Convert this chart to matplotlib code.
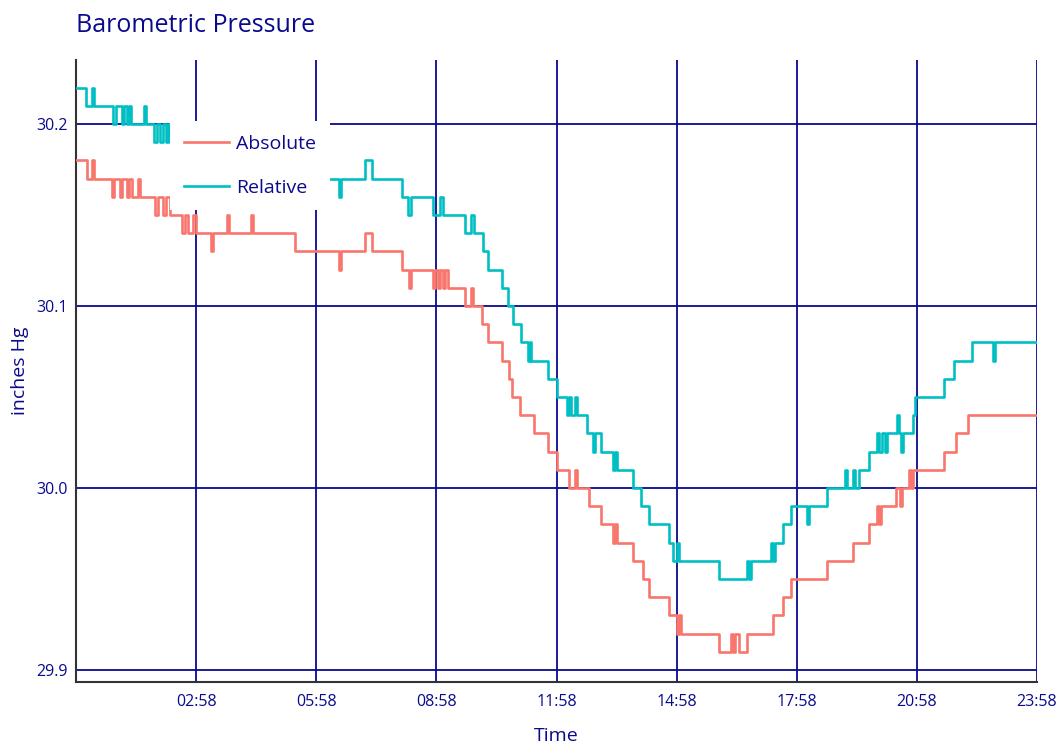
import matplotlib
matplotlib.use("Agg")
import matplotlib.pyplot as plt

# minutes since 23:58 (start of the window), value in inches Hg (step breakpoints)
rel_t = [0, 15, 24, 27, 55, 60, 69, 72, 76, 80, 82, 102, 105, 117, 121, 126, 130, 135, 138, 141,
         186, 276, 394, 397, 433, 444, 489, 498, 502, 535, 546, 550, 583, 592, 597, 610, 618, 639,
         648, 655, 667, 678, 680, 682, 708, 721, 735, 738, 741, 747, 750, 766, 774, 777, 786, 804,
         807, 810, 834, 847, 859, 888, 895, 900, 903, 963, 1006, 1008, 1011, 1041, 1044, 1047,
         1059, 1071, 1096, 1099, 1126, 1152, 1155, 1165, 1168, 1173, 1188, 1200, 1203, 1207, 1212,
         1215, 1230, 1233, 1236, 1239, 1254, 1257, 1300, 1315, 1342, 1374, 1377, 1440]
rel_v = [30.22, 30.21, 30.22, 30.21, 30.20, 30.21, 30.20, 30.21, 30.20, 30.21, 30.20, 30.21, 30.20,
         30.19, 30.20, 30.19, 30.20, 30.19, 30.20, 30.19,
         30.18, 30.17, 30.16, 30.17, 30.18, 30.17, 30.16, 30.15, 30.16, 30.15, 30.16, 30.15, 30.14,
         30.15, 30.14, 30.13, 30.12, 30.11, 30.10, 30.09, 30.08, 30.07, 30.08, 30.07, 30.06, 30.05,
         30.04, 30.05, 30.04, 30.05, 30.04, 30.03, 30.02, 30.03, 30.02, 30.01, 30.02, 30.01, 30.00,
         29.99, 29.98, 29.97, 29.96, 29.97, 29.96, 29.95, 29.96, 29.95, 29.96, 29.97, 29.96, 29.97,
         29.98, 29.99, 29.98, 29.99, 30.00, 30.01, 30.00, 30.01, 30.00, 30.01, 30.02, 30.03, 30.02,
         30.03, 30.02, 30.03, 30.04, 30.03, 30.02, 30.03, 30.04, 30.05, 30.06, 30.07, 30.08, 30.07,
         30.08, 30.08]

abs_t = [0, 16, 24, 27, 54, 57, 66, 69, 76, 80, 84, 93, 96, 118, 123, 130, 135, 141, 159, 163, 168,
         175, 180, 202, 205, 226, 229, 262, 265, 328, 394, 397, 433, 444, 489, 499, 502, 535, 538,
         543, 546, 550, 553, 558, 583, 592, 595, 609, 618, 639, 649, 654, 666, 687, 708, 721, 739,
         748, 751, 768, 786, 805, 808, 811, 834, 849, 858, 888, 900, 903, 906, 963, 981, 985, 988,
         993, 1006, 1044, 1059, 1071, 1126, 1165, 1188, 1200, 1203, 1206, 1228, 1234, 1237, 1248,
         1251, 1254, 1300, 1318, 1336, 1440]
abs_v = [30.18, 30.17, 30.18, 30.17, 30.16, 30.17, 30.16, 30.17, 30.16, 30.17, 30.16, 30.17, 30.16,
         30.15, 30.16, 30.15, 30.16, 30.15, 30.14, 30.15, 30.14, 30.15, 30.14, 30.13, 30.14, 30.15,
         30.14, 30.15, 30.14, 30.13, 30.12, 30.13, 30.14, 30.13, 30.12, 30.11, 30.12, 30.11, 30.12,
         30.11, 30.12, 30.11, 30.12, 30.11, 30.10, 30.11, 30.10, 30.09, 30.08, 30.07, 30.06, 30.05,
         30.04, 30.03, 30.02, 30.01, 30.00, 30.01, 30.00, 29.99, 29.98, 29.97, 29.98, 29.97, 29.96,
         29.95, 29.94, 29.93, 29.92, 29.93, 29.92, 29.91, 29.92, 29.91, 29.92, 29.91, 29.92, 29.93,
         29.94, 29.95, 29.96, 29.97, 29.98, 29.99, 29.98, 29.99, 30.00, 29.99, 30.00, 30.01, 30.00,
         30.01, 30.02, 30.03, 30.04, 30.04]

x_ticks_min = [180, 360, 540, 720, 900, 1080, 1260, 1440]
x_tick_labels = ["02:58", "05:58", "08:58", "11:58", "14:58", "17:58", "20:58", "23:58"]
y_ticks = [29.9, 30.0, 30.1, 30.2]
y_tick_labels = ["29.9", "30.0", "30.1", "30.2"]

NAVY = "#0a0a8c"
plt.rcParams['font.family'] = ['Open Sans', 'DejaVu Sans']

fig = plt.figure(figsize=(10.61, 7.48), dpi=100)
W, H = 1061, 748
ax = fig.add_axes([76 / W, 1 - 682 / H, (1037 - 76) / W, (682 - 60) / H])

ax.plot(abs_t, abs_v, drawstyle='steps-post', color="#F8766D", lw=1.9, label="Absolute", zorder=3)
ax.plot(rel_t, rel_v, drawstyle='steps-post', color="#00BFC4", lw=1.9, label="Relative", zorder=3)

ax.set_xlim(0, 1440)
ax.set_ylim(29.8934, 30.2352)
ax.set_xticks(x_ticks_min)
ax.set_xticklabels(x_tick_labels)
ax.set_yticks(y_ticks)
ax.set_yticklabels(y_tick_labels)
ax.tick_params(axis='both', length=0, colors=NAVY, labelsize=11.5)
ax.tick_params(axis='x', pad=9)
ax.tick_params(axis='y', pad=6)
ax.grid(True, color=NAVY, lw=1.3, zorder=1)
ax.set_axisbelow(True)

for s in ['top', 'right']:
    ax.spines[s].set_visible(False)
for s in ['left', 'bottom']:
    ax.spines[s].set_color("#333333")
    ax.spines[s].set_linewidth(1.5)

ax.set_xlabel("Time", color=NAVY, fontsize=14, labelpad=12)
ax.set_ylabel("inches Hg", color=NAVY, fontsize=14, labelpad=5)

fig.text(76 / W, 1 - 25 / H, "Barometric Pressure", color=NAVY, fontsize=18,
         ha='left', va='center')

leg = ax.legend(loc='upper left', bbox_to_anchor=(170 / W, 1 - 121 / H),
                bbox_transform=fig.transFigure, frameon=True, fancybox=False,
                framealpha=1, edgecolor='none', facecolor='white', fontsize=14,
                labelspacing=1.35, handlelength=2.35, handletextpad=0.35,
                borderpad=0.7, borderaxespad=0)
for t in leg.get_texts():
    t.set_color(NAVY)
for l in leg.get_lines():
    l.set_linewidth(1.9)
leg.set_zorder(5)

fig.savefig("out.png", dpi=100)
